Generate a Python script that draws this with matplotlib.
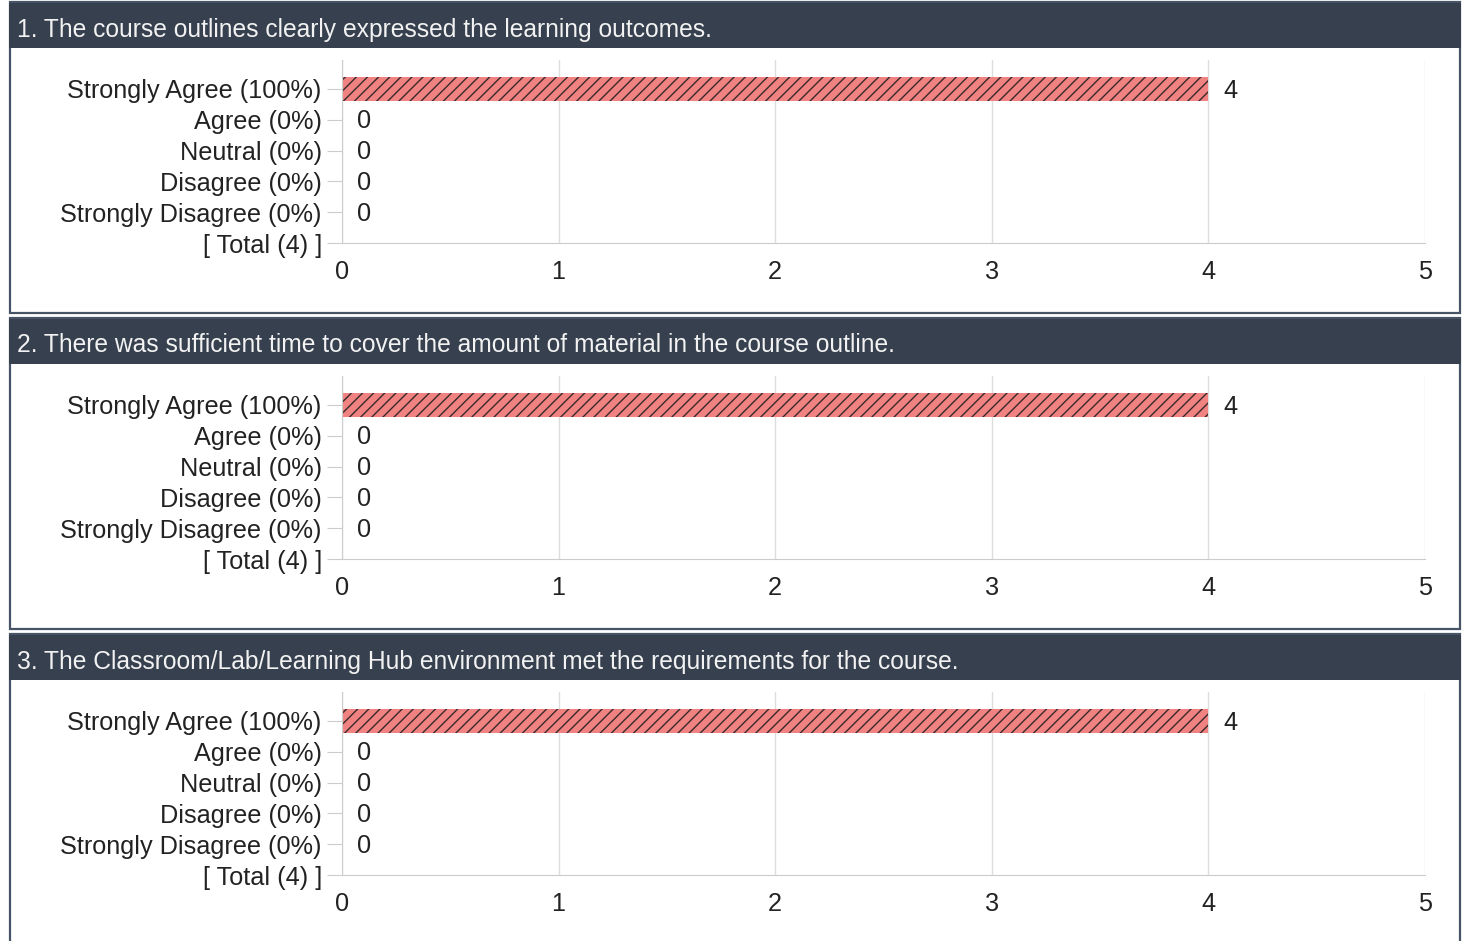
import matplotlib
matplotlib.use('Agg')
import matplotlib.pyplot as plt
from matplotlib.patches import Rectangle

plt.rcParams['font.family'] = ['Liberation Sans', 'DejaVu Sans']
plt.rcParams['hatch.color'] = '#3a2a2a'
plt.rcParams['hatch.linewidth'] = 1.0

# survey data
questions = ['1. The course outlines clearly expressed the learning outcomes.',
             '2. There was sufficient time to cover the amount of material in the course outline.',
             '3. The Classroom/Lab/Learning Hub environment met the requirements for the course.']
categories = ['Strongly Agree (100%)', 'Agree (0%)', 'Neutral (0%)', 'Disagree (0%)',
              'Strongly Disagree (0%)', '[ Total (4) ]']
counts = [[4, 0, 0, 0, 0],
          [4, 0, 0, 0, 0],
          [4, 0, 0, 0, 0]]
xticks = [0, 1, 2, 3, 4, 5]

W, H = 1467, 941
fig = plt.figure(figsize=(W / 100, H / 100), dpi=100)
fig.patch.set_facecolor('white')

def fx(x):
    return x / W

def fy(y):
    return 1 - y / H

step = 316
fs = 18.2
for k, q in enumerate(questions):
    top = 2 + step * k
    # panel frame + dark header
    fig.add_artist(Rectangle((fx(10), fy(top + 311)), fx(1460) - fx(10), 311 / H,
                             transform=fig.transFigure, facecolor='white',
                             edgecolor='#475366', linewidth=1.6, zorder=0))
    fig.add_artist(Rectangle((fx(9), fy(top + 46)), fx(1461) - fx(9), 45 / H,
                             transform=fig.transFigure, facecolor='#36404e',
                             edgecolor='none', zorder=1))
    fig.text(fx(17), fy(top + 27.5), q, color='#f2f2f2', fontsize=17.7,
             va='center', ha='left', zorder=2)

    ax = fig.add_axes([fx(342), fy(243 + step * k), fx(1425) - fx(342), 183 / H])
    ypos = list(range(len(categories)))
    vals = counts[k]
    ax.barh(ypos[:len(vals)], vals, height=0.78, color='#f08282', hatch='///',
            linewidth=0, zorder=2)
    for y, v in zip(ypos, vals):
        ax.annotate(str(v), (v, y), xytext=(11, -1.2), textcoords='offset points',
                    ha='left', va='center', fontsize=fs, color='#222222')
    ax.set_xlim(0, 5)
    ax.set_ylim(5, -0.94)
    ax.set_xticks(xticks)
    ax.set_yticks(ypos)
    ax.set_yticklabels(categories)
    ax.grid(axis='x', color='#dddddd', linewidth=1)
    ax.set_axisbelow(True)
    for s in ['top', 'right']:
        ax.spines[s].set_visible(False)
    for s in ['left', 'bottom']:
        ax.spines[s].set_color('#cccccc')
    ax.tick_params(axis='y', length=11, color='#cccccc', pad=3.5,
                   labelsize=fs, labelcolor='#222222')
    ax.tick_params(axis='x', length=0, pad=12, labelsize=fs, labelcolor='#222222')

fig.savefig('out.png', dpi=100)
